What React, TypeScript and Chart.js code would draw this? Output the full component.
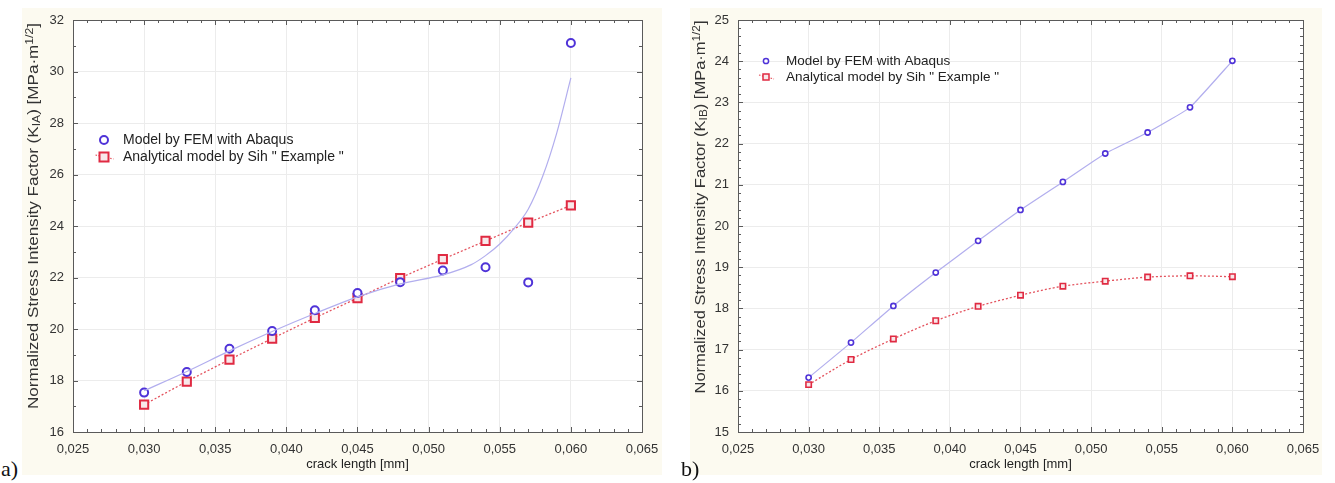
import React, { useEffect, useRef } from "react";
import { Chart, registerables } from "chart.js";

Chart.register(...registerables);

// ---------------- data ----------------
const crackLength = [0.030, 0.033, 0.036, 0.039, 0.042, 0.045, 0.048, 0.051, 0.054, 0.057, 0.060];
const femKA = [17.53, 18.33, 19.23, 19.92, 20.73, 21.40, 21.82, 22.27, 22.40, 21.81, 31.11];
const sihKA = [17.06, 17.96, 18.81, 19.63, 20.43, 21.20, 21.98, 22.71, 23.42, 24.13, 24.80];
const fitLengthA = [0.030, 0.033, 0.036, 0.039, 0.042, 0.045, 0.048, 0.051, 0.053, 0.054, 0.055, 0.056, 0.057, 0.058, 0.059, 0.060];
const fitKA = [17.60, 18.35, 19.15, 19.90, 20.60, 21.25, 21.75, 22.10, 22.50, 22.85, 23.30, 23.90, 24.65, 25.90, 27.60, 29.75];
const femKB = [16.32, 17.17, 18.06, 18.87, 19.64, 20.39, 21.07, 21.76, 22.27, 22.88, 24.01];
const sihKB = [16.15, 16.76, 17.26, 17.70, 18.05, 18.32, 18.54, 18.66, 18.76, 18.79, 18.77];

const xTickValues = [0.025, 0.030, 0.035, 0.040, 0.045, 0.050, 0.055, 0.060, 0.065];
const yTickValuesA = [16, 18, 20, 22, 24, 26, 28, 30, 32];
const yTickValuesB = [15, 16, 17, 18, 19, 20, 21, 22, 23, 24, 25];

const seriesNames = ["Model by FEM with Abaqus", 'Analytical model by Sih " Example "'];
const xAxisTitle = "crack length [mm]";
// [text, shift]: 0 normal, -1 subscript, 1 superscript
const yTitleA: [string, number][] = [["Normalized Stress Intensity Factor (K", 0], ["IA", -1], [") [MPa·m", 0], ["1/2", 1], ["]", 0]];
const yTitleB: [string, number][] = [["Normalized Stress Intensity Factor (K", 0], ["IB", -1], [") [MPa·m", 0], ["1/2", 1], ["]", 0]];

// ---------------- styles ----------------
const FONT = '"Liberation Sans", Arial, Helvetica, sans-serif';
const PANEL_BG = "#fcfaf0";
const GRID = "#ececec";
const FRAME = "#5a5a5a";
const BLUE = "#4f33d8";
const BLUE_LINE = "#b2aeee";
const RED = "#e02a42";
const RED_LINE = "#e4545f";
const TEXT = "#222";

const pts = (xs: number[], ys: number[]) => xs.map((x, i) => ({ x, y: ys[i] }));
const commaLabel = (v: number) => v.toFixed(3).replace(".", ",");

type Spec = {
  width: number; height: number; panelHeight: number;
  padTop: number; padRight: number; yAxisWidth: number; xAxisHeight: number;
  yMin: number; yMax: number; yTicks: number[]; yMajor: number; yMinor: number;
  xMajor: number; xMinor: number;
  datasets: any[];
  legend: { dx: number; dy: number; textDx: number; rowGap: number; fontSize: number; circleR: number; squareHalf: number; lw: number };
  yTitle: [string, number][]; yTitleX: number; yTitleY: number; yTitleLen: number;
  xTitleY: number;
};

function decorPlugin(spec: Spec) {
  return {
    id: "decor",
    beforeDraw(chart: any) {
      const { ctx, chartArea: a, width } = chart;
      ctx.save();
      ctx.fillStyle = PANEL_BG;
      ctx.fillRect(0, 0, width, spec.panelHeight);
      ctx.fillStyle = "#ffffff";
      ctx.fillRect(a.left, a.top, a.right - a.left, a.bottom - a.top);
      ctx.restore();
    },
    afterDraw(chart: any) {
      const { ctx, chartArea: a } = chart;
      const xs = chart.scales.x;
      const ys = chart.scales.y;
      const al = (v: number) => Math.round(v) + 0.5;
      ctx.save();
      // frame
      ctx.strokeStyle = FRAME;
      ctx.lineWidth = 1;
      ctx.strokeRect(al(a.left), al(a.top), Math.round(a.right) - Math.round(a.left), Math.round(a.bottom) - Math.round(a.top));
      // inward tick marks
      ctx.beginPath();
      const nx = Math.round((xs.max - xs.min) / spec.xMinor);
      const rx = Math.round(spec.xMajor / spec.xMinor);
      for (let i = 0; i <= nx; i++) {
        const v = xs.min + i * spec.xMinor;
        const len = i % rx === 0 ? 5 : 3;
        const px = al(xs.getPixelForValue(v));
        ctx.moveTo(px, a.bottom); ctx.lineTo(px, a.bottom - len);
        ctx.moveTo(px, a.top); ctx.lineTo(px, a.top + len);
      }
      const ny = Math.round((ys.max - ys.min) / spec.yMinor);
      const ry = Math.round(spec.yMajor / spec.yMinor);
      for (let i = 0; i <= ny; i++) {
        const v = ys.min + i * spec.yMinor;
        const len = i % ry === 0 ? 5 : 3;
        const py = al(ys.getPixelForValue(v));
        ctx.moveTo(a.left, py); ctx.lineTo(a.left + len, py);
        ctx.moveTo(a.right, py); ctx.lineTo(a.right - len, py);
      }
      ctx.stroke();

      // legend
      const L = spec.legend;
      const cx = a.left + L.dx;
      const y1 = a.top + L.dy;
      const y2 = y1 + L.rowGap;
      ctx.lineWidth = L.lw;
      ctx.strokeStyle = BLUE;
      ctx.fillStyle = "#fff";
      ctx.beginPath();
      ctx.arc(cx, y1, L.circleR, 0, Math.PI * 2);
      ctx.fill();
      ctx.stroke();
      ctx.save();
      ctx.strokeStyle = RED_LINE;
      ctx.lineWidth = 1.2;
      ctx.setLineDash([1.5, 1.5]);
      ctx.beginPath();
      ctx.moveTo(cx - L.squareHalf - 4, y2 - 2);
      ctx.lineTo(cx + L.squareHalf + 5, y2 + 2);
      ctx.stroke();
      ctx.restore();
      ctx.strokeStyle = RED;
      ctx.fillStyle = "#f8e8ea";
      ctx.fillRect(cx - L.squareHalf, y2 - L.squareHalf, L.squareHalf * 2, L.squareHalf * 2);
      ctx.strokeRect(cx - L.squareHalf, y2 - L.squareHalf, L.squareHalf * 2, L.squareHalf * 2);
      ctx.fillStyle = TEXT;
      ctx.font = `${L.fontSize}px ${FONT}`;
      ctx.textBaseline = "middle";
      ctx.textAlign = "left";
      ctx.fillText(seriesNames[0], a.left + L.textDx, y1);
      ctx.fillText(seriesNames[1], a.left + L.textDx, y2);

      // x title
      ctx.font = `13px ${FONT}`;
      ctx.textAlign = "center";
      ctx.fillText(xAxisTitle, (a.left + a.right) / 2, spec.xTitleY);

      // y title with sub/superscripts, rotated
      const big = `14px ${FONT}`;
      const small = `10px ${FONT}`;
      let total = 0;
      const widths = spec.yTitle.map(([t, s]) => {
        ctx.font = s === 0 ? big : small;
        const w = ctx.measureText(t).width;
        total += w;
        return w;
      });
      const f = spec.yTitleLen / total;
      ctx.fillStyle = "#333";
      ctx.translate(spec.yTitleX, spec.yTitleY);
      ctx.rotate(-Math.PI / 2);
      ctx.scale(f, 1);
      ctx.textAlign = "left";
      let x = -total / 2;
      spec.yTitle.forEach(([t, s], i) => {
        ctx.font = s === 0 ? big : small;
        const dy = s === -1 ? 3 : s === 1 ? -4 : 0;
        ctx.fillText(t, x, dy);
        x += widths[i];
      });
      ctx.restore();
    },
  };
}

function makeConfig(spec: Spec): any {
  return {
    type: "scatter",
    data: { datasets: spec.datasets },
    options: {
      animation: false,
      responsive: false,
      devicePixelRatio: 1,
      layout: { padding: { top: spec.padTop, right: spec.padRight, left: 0, bottom: 0 } },
      plugins: { legend: { display: false }, tooltip: { enabled: false } },
      scales: {
        x: {
          type: "linear",
          min: xTickValues[0],
          max: xTickValues[xTickValues.length - 1],
          afterBuildTicks: (s: any) => { s.ticks = xTickValues.map((v) => ({ value: v })); },
          afterFit: (s: any) => { s.height = spec.xAxisHeight; s.paddingLeft = 0; s.paddingRight = 0; },
          ticks: { callback: (v: any) => commaLabel(Number(v)), font: { family: FONT, size: 13 }, color: "#333", padding: 10, maxRotation: 0, autoSkip: false },
          grid: { color: GRID, drawTicks: false },
          border: { display: false },
        },
        y: {
          type: "linear",
          min: spec.yMin,
          max: spec.yMax,
          afterBuildTicks: (s: any) => { s.ticks = spec.yTicks.map((v) => ({ value: v })); },
          afterFit: (s: any) => { s.width = spec.yAxisWidth; s.paddingTop = 0; s.paddingBottom = 0; },
          ticks: { callback: (v: any) => String(v), font: { family: FONT, size: 13 }, color: "#333", padding: 9, autoSkip: false },
          grid: { color: GRID, drawTicks: false },
          border: { display: false },
        },
      },
    },
    plugins: [decorPlugin(spec)],
  };
}

const specA: Spec = {
  width: 640, height: 475, panelHeight: 467,
  padTop: 12, padRight: 20, yAxisWidth: 51, xAxisHeight: 51,
  yMin: 16, yMax: 32, yTicks: yTickValuesA, yMajor: 2, yMinor: 1,
  xMajor: 0.005, xMinor: 0.001,
  datasets: [
    { data: pts(fitLengthA, fitKA), showLine: true, borderColor: BLUE_LINE, borderWidth: 1.2, pointRadius: 0, cubicInterpolationMode: "monotone" },
    { data: pts(crackLength, femKA), showLine: false, pointStyle: "circle", pointRadius: 4, pointBorderWidth: 2, pointBorderColor: BLUE, pointBackgroundColor: "#ffffff" },
    { data: pts(crackLength, sihKA), showLine: true, borderColor: RED_LINE, borderWidth: 1.3, borderDash: [2, 2], tension: 0.3, pointStyle: "rect", pointRadius: 5.8, pointBorderWidth: 2, pointBorderColor: RED, pointBackgroundColor: "#f8e8ea" },
  ],
  legend: { dx: 31, dy: 120, textDx: 50, rowGap: 17, fontSize: 14, circleR: 4, squareHalf: 4.5, lw: 2 },
  yTitle: yTitleA, yTitleX: 12, yTitleY: 208, yTitleLen: 386,
  xTitleY: 456,
};

const specB: Spec = {
  width: 632, height: 475, panelHeight: 467,
  padTop: 12, padRight: 19, yAxisWidth: 48, xAxisHeight: 51,
  yMin: 15, yMax: 25, yTicks: yTickValuesB, yMajor: 1, yMinor: 0.2,
  xMajor: 0.005, xMinor: 0.001,
  datasets: [
    { data: pts(crackLength, femKB), showLine: true, borderColor: BLUE_LINE, borderWidth: 1.2, tension: 0.12, pointStyle: "circle", pointRadius: 2.6, pointBorderWidth: 1.6, pointBorderColor: BLUE, pointBackgroundColor: "#ffffff" },
    { data: pts(crackLength, sihKB), showLine: true, borderColor: RED_LINE, borderWidth: 1.3, borderDash: [2, 2], tension: 0.3, pointStyle: "rect", pointRadius: 3.8, pointBorderWidth: 1.6, pointBorderColor: RED, pointBackgroundColor: "#f8e8ea" },
  ],
  legend: { dx: 28, dy: 41, textDx: 48, rowGap: 16, fontSize: 13.5, circleR: 2.6, squareHalf: 3, lw: 1.5 },
  yTitle: yTitleB, yTitleX: 11, yTitleY: 199, yTitleLen: 373,
  xTitleY: 456,
};

function ChartPanel({ spec, left, top }: { spec: Spec; left: number; top: number }) {
  const ref = useRef<HTMLCanvasElement>(null);
  useEffect(() => {
    const chart = new Chart(ref.current as HTMLCanvasElement, makeConfig(spec));
    return () => chart.destroy();
  }, [spec]);
  return (
    <div style={{ position: "absolute", left, top, width: spec.width, height: spec.height }}>
      <canvas ref={ref} width={spec.width} height={spec.height} style={{ display: "block", width: spec.width, height: spec.height }} />
    </div>
  );
}

const serif = '"Liberation Serif", "Times New Roman", serif';

export default function App() {
  return (
    <div style={{ position: "fixed", left: 0, top: 0, width: 1335, height: 483, background: "#ffffff", overflow: "hidden" }}>
      <ChartPanel spec={specA} left={22} top={8} />
      <ChartPanel spec={specB} left={690} top={8} />
      <span style={{ position: "absolute", left: 1, top: 457, fontFamily: serif, fontSize: 22, lineHeight: "24px", color: "#111" }}>a)</span>
      <span style={{ position: "absolute", left: 681, top: 457, fontFamily: serif, fontSize: 22, lineHeight: "24px", color: "#111" }}>b)</span>
    </div>
  );
}
